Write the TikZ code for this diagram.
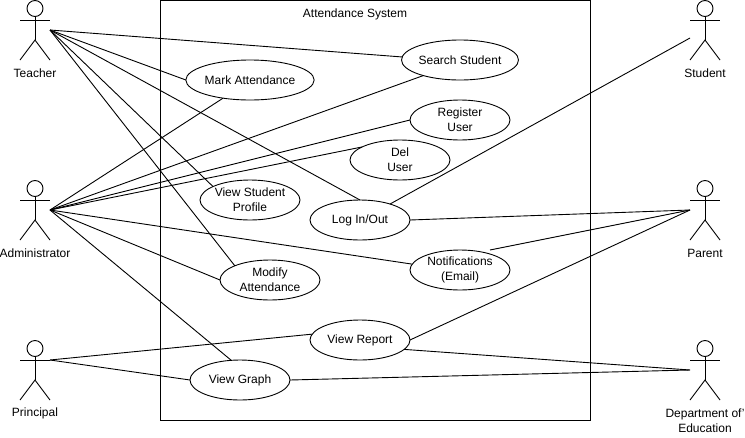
\documentclass[tikz,border=0pt]{standalone}
\usepackage{fontspec}
\setmainfont{Liberation Sans}
\usetikzlibrary{shapes.geometric}
\tikzset{
 usecase/.style={ellipse,draw,minimum width=100pt,minimum height=40pt,inner sep=0pt,outer sep=0pt,align=center},
 actorname/.style={align=center},
 actorfig/.pic={
  \draw (0,0.5) ++(0,8) circle (8);
  \draw (0,16) -- (0,40) (-15,20) -- (15,20);
  \draw (-15,60) -- (0,40) -- (15,60);
 }
}
\begin{document}
\begin{tikzpicture}[x=1pt,y=-1pt,line width=0.9pt,font=\fontsize{12}{15}\selectfont]
 \useasboundingbox (0,0) rectangle (745,437);
 \node (sys) at (160.5,0.5) [minimum width=0pt,inner sep=0pt] {};
 \node (sysb) at (590.5,420.5) [minimum width=0pt,inner sep=0pt] {};
 \draw (sys) rectangle (sysb);
 \node (title) at (355,14) {Attendance System};

 \pic at (35,0) {actorfig};
 \pic at (35,180) {actorfig};
 \pic at (35,340) {actorfig};
 \pic at (705,0) {actorfig};
 \pic at (705,180) {actorfig};
 \pic at (705,340) {actorfig};
 \node (tl) at (35,73) [actorname] {Teacher};
 \node (al) at (35,253) [actorname] {Administrator};
 \node (pl) at (35,413) [actorname] {Principal};
 \node (sl) at (705,73) [actorname] {Student};
 \node (rl) at (705,253) [actorname] {Parent};
 \node (dl) at (705,420.5) [actorname] {Department of'\\Education};
 \coordinate (t) at (50,30);
 \coordinate (a) at (50,210);
 \coordinate (p) at (50,360);
 \coordinate (s) at (690,38);
 \coordinate (r) at (690,210);
 \coordinate (d) at (690,370);

 \node (mark) at (250,80) [usecase] {Mark Attendance};
 \node (search) at (460,60) [usecase] {Search Student};
 \node (reg) at (460,120) [usecase] {Register\\User};
 \node (del) at (400,160) [usecase] {Del\\User};
 \node (profile) at (250,200) [usecase] {View Student\\Profile};
 \node (login) at (360,220) [usecase] {Log In/Out};
 \node (notif) at (460,270) [usecase] {Notifications\\(Email)};
 \node (modify) at (270,280) [usecase] {Modify\\Attendance};
 \node (report) at (360,340) [usecase] {View Report};
 \node (graph) at (240,380) [usecase] {View Graph};
 \coordinate (notifr) at (490,250);

 \draw (t) edge (search.177) (t) edge (mark.west) (t) edge (profile.160);
 \draw (t) edge (login.north) (t) edge (modify.158);
 \draw (a) edge (mark.214) (a) edge (search.203) (a) edge (reg.west);
 \draw (a) edge (del.161) (a) edge (notif.173) (a) edge (modify.west);
 \draw (a) edge (graph.114);
 \draw (s) edge (login.28);
 \draw (r) edge (login.east) (r) edge (notifr) (r) edge (report.east);
 \draw (d) edge (report.348) (d) edge (graph.east);
 \draw (p) edge (report.173) (p) edge (graph.west);
\end{tikzpicture}
\end{document}
